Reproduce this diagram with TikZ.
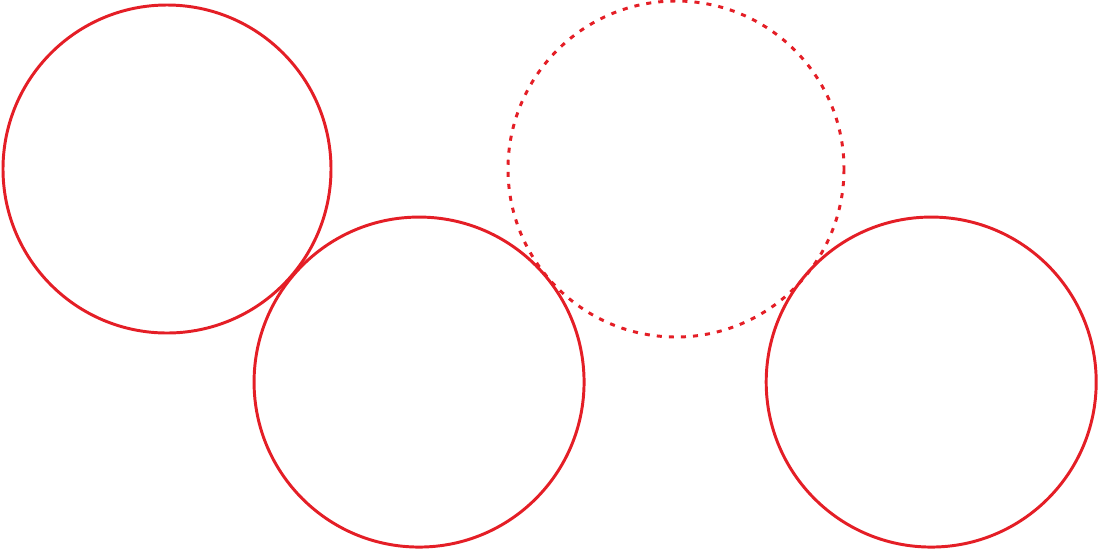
\documentclass[tikz,border=0pt]{standalone}
\usepackage{amsmath}
\usepackage{tikz}
\usepackage{color}

\definecolor{ringred}{RGB}{228,30,38}

\begin{document}
\begin{tikzpicture}[x=.025cm,y=-.025cm]

\useasboundingbox (0,0) rectangle (1098,549);

\tikzset{ring/.style={draw=ringred, line width=2.1pt}}

 \draw[ring] (167,169) circle[radius=164];

\begin{scope}[xshift=6.3cm, yshift=-5.325cm]
 \draw[ring] (167,169) circle[radius=165];
\end{scope}

 \draw[ring, dash pattern=on 3.6pt off 5pt] (676,169) circle[radius=168];

\begin{scope}[xshift=19.1cm, yshift=-5.325cm]
 \draw[ring] (167,169) circle[radius=165];
\end{scope}

\end{tikzpicture}
\end{document}
